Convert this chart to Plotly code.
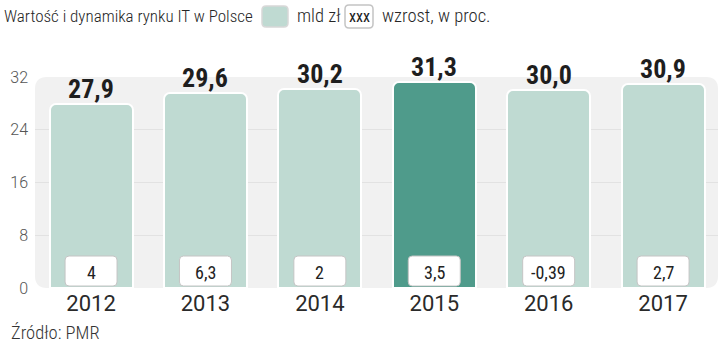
import plotly.graph_objects as go

years = ["2012", "2013", "2014", "2015", "2016", "2017"]
values = [27.9, 29.6, 30.2, 31.3, 30.0, 30.9]
growth = ["4", "6,3", "2", "3,5", "-0,39", "2,7"]
highlight_year = "2015"
yticks = [0, 8, 16, 24, 32]
title = "Wartość i dynamika rynku IT w Polsce"
legend_value = "mld zł"
legend_growth = "wzrost, w proc."
source = "Źródło: PMR"

W, H = 720, 344
L, R, T, B = 35, 2, 77, 56
pw, ph = W - L - R, H - T - B


def px(x):
    return (x - L) / pw


def py(y):
    return (H - B - y) / ph


def rrect(x0, y0, x1, y1, rx, ry):
    return (f"M{x0+rx},{y0} L{x1-rx},{y0} Q{x1},{y0} {x1},{y0+ry} "
            f"L{x1},{y1-ry} Q{x1},{y1} {x1-rx},{y1} L{x0+rx},{y1} "
            f"Q{x0},{y1} {x0},{y1-ry} L{x0},{y0+ry} Q{x0},{y0} {x0+rx},{y0} Z")


LIGHT = "#bfdad2"
DARK = "#4f9b8b"
COND = "Roboto Condensed, sans-serif"
ROB = "Roboto, sans-serif"

xs = list(range(len(years)))
colors = [DARK if y == highlight_year else LIGHT for y in years]

fig = go.Figure(go.Bar(
    x=xs, y=values, width=0.725,
    marker=dict(color=colors, line=dict(color="white", width=2), cornerradius=6),
    hoverinfo="skip",
))

shapes = []
annotations = []

# background panel (rounded)
shapes.append(dict(type="path", xref="paper", yref="paper", layer="below",
                   path=rrect(0, py(288), 1, py(77), 12 / pw, 12 / ph),
                   fillcolor="#f1f1f1", line=dict(width=0)))

# value labels and growth boxes
xspan = 5.48 - (-0.49)
ux = pw / xspan
for i, (v, g) in enumerate(zip(values, growth)):
    annotations.append(dict(x=i, y=v, xref="x", yref="y", xanchor="center", yanchor="bottom",
                            yshift=-2, showarrow=False,
                            text=f"{v:.1f}".replace(".", ","),
                            font=dict(family=COND, size=26, color="#1e1e1e", weight="bold")))
    hw = 26 / ux
    shapes.append(dict(type="path", xref="x", yref="paper", layer="above",
                       path=rrect(i - hw, py(286), i + hw, py(256), 4 / ux, 4 / ph),
                       fillcolor="white", line=dict(color="#c4c4c4", width=1)))
    annotations.append(dict(x=i, y=py(272), xref="x", yref="paper", xanchor="center",
                            yanchor="middle", showarrow=False,
                            text=g, font=dict(family=COND, size=18, color="#222")))

# title
tfont = dict(family=COND, size=17, color="#262626", weight=300)
lfont = dict(family=COND, size=18.5, color="#262626", weight=300)
annotations.append(dict(x=px(2), y=py(16), xref="paper", yref="paper", xanchor="left",
                        yanchor="middle", showarrow=False, text=title, font=tfont))
# legend
shapes.append(dict(type="path", xref="paper", yref="paper",
                   path=rrect(px(262), py(27), px(288), py(6), 4 / pw, 4 / ph),
                   fillcolor=LIGHT, line=dict(color="#d8d8d8", width=1.5)))
annotations.append(dict(x=px(295), y=py(16), xref="paper", yref="paper", xanchor="left",
                        yanchor="middle", showarrow=False, text=legend_value, font=lfont))
shapes.append(dict(type="path", xref="paper", yref="paper",
                   path=rrect(px(345), py(28), px(373), py(5), 4 / pw, 4 / ph),
                   fillcolor="white", line=dict(color="#c4c4c4", width=1.5)))
annotations.append(dict(x=px(359), y=py(16.5), xref="paper", yref="paper", xanchor="center",
                        yanchor="middle", showarrow=False, text="xxx",
                        font=dict(family=COND, size=16, color="#222")))
annotations.append(dict(x=px(380), y=py(16), xref="paper", yref="paper", xanchor="left",
                        yanchor="middle", showarrow=False, text=legend_growth, font=lfont))
# source
annotations.append(dict(x=px(9), y=py(333), xref="paper", yref="paper", xanchor="left",
                        yanchor="middle", showarrow=False, text=source,
                        font=dict(family=COND, size=18.5, color="#333", weight=300)))

fig.update_layout(
    width=W, height=H,
    margin=dict(l=L, r=R, t=T, b=B),
    paper_bgcolor="white", plot_bgcolor="rgba(0,0,0,0)",
    showlegend=False,
    shapes=shapes, annotations=annotations,
    bargap=0,
)
fig.update_traces(cliponaxis=False)
fig.update_xaxes(range=[-0.49, 5.48], tickvals=xs, ticktext=years, showgrid=False,
                 zeroline=False, showline=False, ticks="",
                 tickfont=dict(family=ROB, size=22, color="#2a2a2a"))
fig.update_yaxes(range=[0, 32], tickvals=yticks, showgrid=True, gridcolor="#e2e2e2",
                 gridwidth=1, zeroline=False, showline=False, ticks="",
                 ticklabelstandoff=6,
                 tickfont=dict(family=ROB, size=16, color="#555", weight=300))

fig.write_html("out.html")
